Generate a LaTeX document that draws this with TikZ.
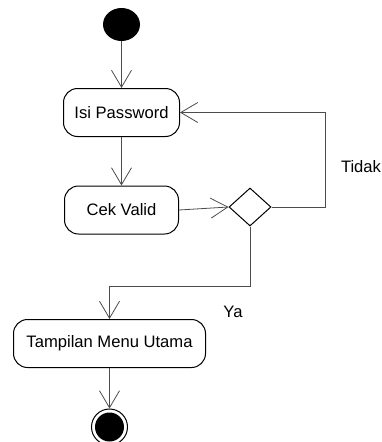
\documentclass[tikz,border=0pt]{standalone}
\usepackage{fontspec}
\setmainfont{Liberation Sans}
\usetikzlibrary{arrows.meta,shapes.geometric}

\begin{document}
\begin{tikzpicture}[x=1pt,y=-1pt,
        activity/.style={draw,rounded corners=14pt,line width=1pt,inner sep=0pt,
            minimum height=48pt,font=\fontsize{16.6}{20}\selectfont},
        label/.style={font=\fontsize{16.6}{20}\selectfont},
        flow/.style={draw=black!70,line width=0.8pt,-{Straight Barb[length=17pt,width=20pt]}}]
        \useasboundingbox (0,0) rectangle (381,442);
        \node[ellipse,fill,minimum width=37pt,minimum height=33pt,inner sep=0pt] (start) at (121.5,24.5) {};
        \node[activity,minimum width=116pt] (isi) at (121.5,112.5) {Isi Password};
        \node[activity,minimum width=114pt] (cek) at (121.5,210) {Cek Valid};
        \node[diamond,draw,line width=1pt,minimum width=42pt,minimum height=38pt,inner sep=0pt] (pilih) at (250,207) {};
        \node[activity,minimum width=192pt] (menu) at (109.5,343.5) {Tampilan Menu Utama};
        \node[circle,draw,line width=1pt,minimum size=36pt,inner sep=0pt] (akhir) at (109.5,427) {};
        \node[circle,fill,minimum size=29pt,inner sep=0pt] (akhirisi) at (akhir) {};
        \coordinate (belok) at (325,207);
        \coordinate (turun) at (109.5,286);
        \draw[flow] (start) -- (isi);
        \draw[flow] (isi) -- (cek);
        \draw[flow] (cek.east) -- (pilih.west);
        \draw[flow] (pilih.east) -- (belok) |- (isi.east);
        \draw[flow] (pilih.south) |- (turun) -- (menu);
        \draw[flow] (menu) -- (akhir);
        \node[label] (tidak) at (361,167) {Tidak};
        \node[label] (ya) at (233,312) {Ya};
    \end{tikzpicture}
\end{document}
